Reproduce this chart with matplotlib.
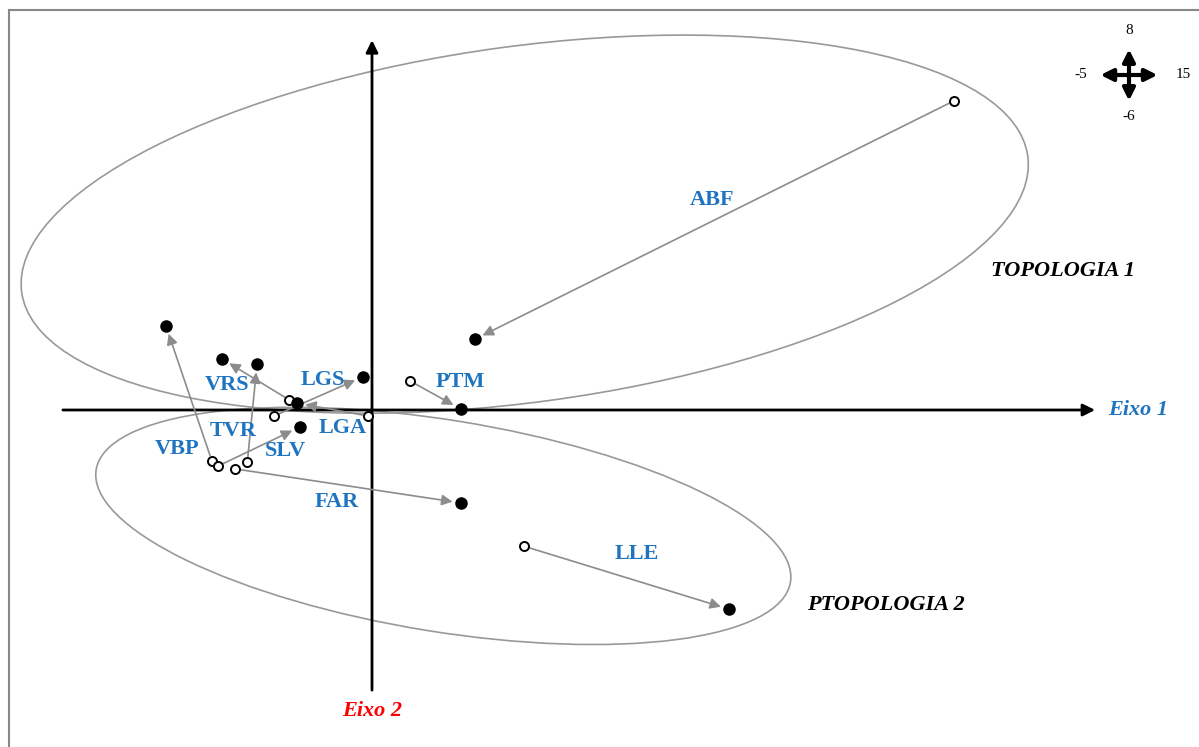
import matplotlib.pyplot as plt
from matplotlib.patches import Ellipse
from matplotlib.lines import Line2D

# data units: scores on the two factorial axes
codes = ["ABF", "PTM", "LLE", "FAR", "VBP", "SLV", "TVR", "VRS", "LGS", "LGA"]
start_x = [12.65, 0.83, 3.30, -2.98, -3.48, -3.35, -2.71, -1.80, -2.13, -0.09]
start_y = [6.72, 0.63, -2.96, -1.28, -1.11, -1.22, -1.13, 0.22, -0.13, -0.13]
end_x = [2.24, 1.93, 7.76, 1.93, -4.48, -1.57, -2.50, -3.26, -0.20, -1.63]
end_y = [1.54, 0.02, -4.33, -2.02, 1.83, -0.37, 1.00, 1.11, 0.72, 0.15]
label_x = [7.39, 1.91, 5.75, -0.76, -4.24, -1.89, -3.02, -3.14, -1.07, -0.64]
label_y = [4.57, 0.61, -3.13, -2.00, -0.85, -0.90, -0.45, 0.54, 0.65, -0.40]

groups = ["TOPOLOGIA 1", "PTOPOLOGIA 2"]
group_cx = [3.32, 1.55]
group_cy = [4.04, -2.52]
group_w = [22.07, 15.29]
group_h = [7.74, 4.6]
group_ang = [7.7, -9.2]
group_lx = [15.02, 11.17]
group_ly = [3.02, -4.24]

compass_labels = ["-5", "15", "8", "-6"]

W, H, U = 1199, 747, 46.0
ox, oy = 372, 410

fig = plt.figure(figsize=(W / 100, H / 100), dpi=100)
ax = fig.add_axes([0, 0, 1, 1])
ax.set_xlim(-ox / U, (W - ox) / U)
ax.set_ylim((oy - H) / U, oy / U)
ax.axis("off")

# outer frame
fig.add_artist(Line2D([8.5 / W, 8.5 / W], [0, 1 - 9.5 / H], color="#888888", lw=1.5))
fig.add_artist(Line2D([8.5 / W, 1], [1 - 9.5 / H, 1 - 9.5 / H], color="#888888", lw=1.5))

for cx, cy, w, h, a in zip(group_cx, group_cy, group_w, group_h, group_ang):
    ax.add_patch(Ellipse((cx, cy), w, h, angle=a, fill=False, edgecolor="#999999", lw=1.2))

# axes
ax.annotate("", xy=(15.72, 0), xytext=(-6.72, 0),
            arrowprops=dict(arrowstyle="-|>", color="black", lw=2, mutation_scale=18, shrinkA=0, shrinkB=0))
ax.annotate("", xy=(0, 8.04), xytext=(0, -6.09),
            arrowprops=dict(arrowstyle="-|>", color="black", lw=2, mutation_scale=18, shrinkA=0, shrinkB=0))
ax.text(16.0, 0, "Eixo 1", color="#1F74C0", fontsize=16, family="Liberation Serif",
        style="italic", weight="bold", ha="left", va="center")
ax.text(0, -6.55, "Eixo 2", color="red", fontsize=16, family="Liberation Serif",
        style="italic", weight="bold", ha="center", va="center")

for x0, y0, x1, y1 in zip(start_x, start_y, end_x, end_y):
    ax.annotate("", xy=(x1, y1), xytext=(x0, y0),
                arrowprops=dict(arrowstyle="-|>", color="#8c8c8c", lw=1.2, mutation_scale=16,
                                shrinkA=4, shrinkB=6), zorder=3)

ax.plot(start_x, start_y, "o", ms=6.5, mfc="white", mec="black", mew=1.4, ls="none", zorder=4)
ax.plot(end_x, end_y, "o", ms=8, color="black", ls="none", zorder=4)

for c, lx, ly in zip(codes, label_x, label_y):
    ax.text(lx, ly, c, color="#1F74C0", fontsize=16, family="Liberation Serif",
            weight="bold", ha="center", va="center", zorder=5)

for g, lx, ly in zip(groups, group_lx, group_ly):
    ax.text(lx, ly, g, color="black", fontsize=16, family="Liberation Serif",
            weight="bold", style="italic", ha="center", va="center")

# orientation cross
ccx, ccy = (1129 - ox) / U, (oy - 75) / U
ax.annotate("", xy=(ccx + 0.62, ccy), xytext=(ccx - 0.62, ccy),
            arrowprops=dict(arrowstyle="<|-|>", color="black", lw=3, mutation_scale=18, shrinkA=0, shrinkB=0))
ax.annotate("", xy=(ccx, ccy + 0.56), xytext=(ccx, ccy - 0.56),
            arrowprops=dict(arrowstyle="<|-|>", color="black", lw=3, mutation_scale=18, shrinkA=0, shrinkB=0))
cpos = [(ccx - 1.05, ccy), (ccx + 1.17, ccy), (ccx, ccy + 0.96), (ccx, ccy - 0.9)]
for t, (px, py) in zip(compass_labels, cpos):
    ax.text(px, py, t, fontsize=11, family="Liberation Serif", ha="center", va="center")

plt.savefig("out.png", dpi=100)
plt.close(fig)
